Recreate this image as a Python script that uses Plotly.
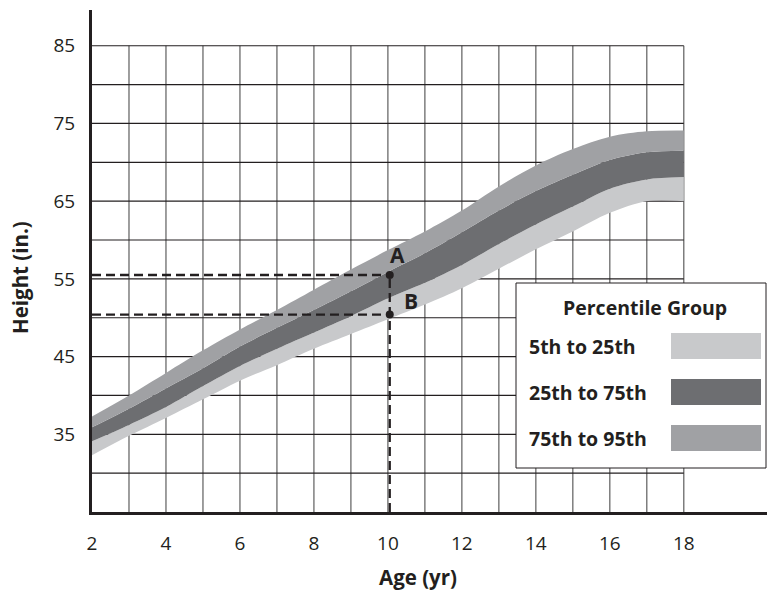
import plotly.graph_objects as go

# ---- data ----
ages = [2, 3, 4, 5, 6, 7, 8, 9, 10, 11, 12, 13, 14, 15, 16, 17, 18]
p5 = [32.3, 34.8, 37.1, 39.5, 41.9, 43.9, 46.0, 47.9, 49.8, 51.7, 53.8, 56.3, 58.8, 61.1, 63.5, 65.0, 65.0]
p25 = [34.1, 36.2, 38.5, 41.2, 43.8, 46.0, 48.1, 50.2, 52.5, 54.5, 56.8, 59.5, 62.0, 64.3, 66.6, 67.8, 68.1]
p75 = [35.9, 38.3, 40.9, 43.5, 46.3, 48.7, 51.0, 53.4, 55.9, 58.3, 61.0, 63.8, 66.3, 68.4, 70.3, 71.3, 71.5]
p95 = [37.3, 40.0, 42.9, 45.8, 48.5, 51.0, 53.6, 56.2, 58.7, 61.1, 63.8, 66.9, 69.6, 71.7, 73.3, 74.0, 74.1]

group_names = ["5th to 25th", "25th to 75th", "75th to 95th"]
group_colors = ["#c8c9cb", "#6d6e71", "#a0a1a4"]

point_labels = ["A", "B"]
point_age = [10.05, 10.05]
point_height = [55.5, 50.4]

x_ticks = [2, 4, 6, 8, 10, 12, 14, 16, 18]
y_ticks = [35, 45, 55, 65, 75, 85]
grid_x = list(range(3, 19))
grid_y = list(range(30, 90, 5))

X_MIN, X_MAX = 2, 20.25
Y_MIN, Y_MAX = 25, 89.6
GRID_X_MAX, GRID_Y_MAX = 18, 85

INK = "#231f20"
FONT = "Open Sans"

fig = go.Figure()

# bands
fig.add_trace(go.Scatter(x=ages, y=p5, mode="lines", line=dict(width=0, shape="spline", smoothing=0.9),
                         showlegend=False, hoverinfo="skip"))
for vals, col in zip([p25, p75, p95], group_colors):
    fig.add_trace(go.Scatter(x=ages, y=vals, mode="lines", fill="tonexty", fillcolor=col,
                             line=dict(width=0, shape="spline", smoothing=0.9, color=col),
                             showlegend=False, hoverinfo="skip"))

# dashed reading lines
for yv in point_height:
    fig.add_trace(go.Scatter(x=[X_MIN, point_age[0]], y=[yv, yv], mode="lines",
                             line=dict(color=INK, width=2.3, dash="9px,5px"),
                             showlegend=False, hoverinfo="skip"))
fig.add_trace(go.Scatter(x=[point_age[0], point_age[0]], y=[Y_MIN, max(point_height)], mode="lines",
                         line=dict(color=INK, width=2.3, dash="9px,5px"),
                         showlegend=False, hoverinfo="skip"))

# points
fig.add_trace(go.Scatter(x=point_age, y=point_height, mode="markers",
                         marker=dict(color=INK, size=8), showlegend=False, hoverinfo="skip"))

shapes = []
# grid (under the bands)
for gx in grid_x:
    shapes.append(dict(type="line", xref="x", yref="y", x0=gx, x1=gx, y0=Y_MIN, y1=GRID_Y_MAX,
                       line=dict(color="#6a6a6a", width=1.3), layer="below"))
for gy in grid_y:
    shapes.append(dict(type="line", xref="x", yref="y", x0=X_MIN, x1=GRID_X_MAX, y0=gy, y1=gy,
                       line=dict(color=INK, width=1.2), layer="below"))

W, H = 767, 590
ML, MT, MB, MR = 92, 10, 78, 0
PW, PH = W - ML - MR, H - MT - MB


def px(xp):
    return (xp - ML) / PW


def py(yp):
    return (H - MB - yp) / PH


# legend box
shapes.append(dict(type="rect", xref="paper", yref="paper", x0=px(516), x1=px(766), y0=py(468), y1=py(283),
                   line=dict(color=INK, width=1), fillcolor="white", layer="above"))
row_y = [346, 392, 438]
for ry, col in zip(row_y, group_colors):
    shapes.append(dict(type="rect", xref="paper", yref="paper", x0=px(671), x1=px(761),
                       y0=py(ry + 13), y1=py(ry - 13), line=dict(width=0), fillcolor=col, layer="above"))

annotations = []
annotations.append(dict(xref="paper", yref="paper", x=px(645), y=py(308), text="Percentile Group",
                        showarrow=False, xanchor="center", yanchor="middle",
                        font=dict(family=FONT, size=19.5, color=INK, weight="bold")))
for ry, name in zip(row_y, group_names):
    annotations.append(dict(xref="paper", yref="paper", x=px(527), y=py(ry), text=name,
                            showarrow=False, xanchor="left", yanchor="middle",
                            font=dict(family=FONT, size=19.5, color=INK, weight="bold")))

# point labels
label_off = [(8, 20), (21, 14)]
for lab, xa, ya, (dx, dy) in zip(point_labels, point_age, point_height, label_off):
    annotations.append(dict(x=xa, y=ya, xref="x", yref="y", text=lab, showarrow=False,
                            xshift=dx, yshift=dy, font=dict(family=FONT, size=21, color=INK, weight="bold")))

# axis titles
annotations.append(dict(xref="paper", yref="paper", x=px(20), y=py(278), text="Height (in.)",
                        showarrow=False, textangle=-90, xanchor="center", yanchor="middle",
                        font=dict(family=FONT, size=20.5, color=INK, weight="bold")))
annotations.append(dict(xref="paper", yref="paper", x=px(418), y=py(577), text="Age (yr)",
                        showarrow=False, xanchor="center", yanchor="middle",
                        font=dict(family=FONT, size=20.5, color=INK, weight="bold")))

fig.update_layout(
    width=W, height=H, margin=dict(l=ML, r=MR, t=MT, b=MB),
    paper_bgcolor="white", plot_bgcolor="white",
    shapes=shapes, annotations=annotations, showlegend=False,
    xaxis=dict(range=[X_MIN, X_MAX], tickvals=x_ticks, ticks="", showgrid=False, zeroline=False,
               showline=True, linecolor=INK, linewidth=3, ticklabelstandoff=12,
               tickfont=dict(family=FONT, size=19, color=INK)),
    yaxis=dict(range=[Y_MIN, Y_MAX], tickvals=y_ticks, ticks="", showgrid=False, zeroline=False,
               showline=True, linecolor=INK, linewidth=3, ticklabelstandoff=10,
               tickfont=dict(family=FONT, size=19, color=INK)),
)

fig.write_html("out.html", config={"displayModeBar": False},
               post_script="document.body.style.margin='0';document.body.style.padding='0';")
